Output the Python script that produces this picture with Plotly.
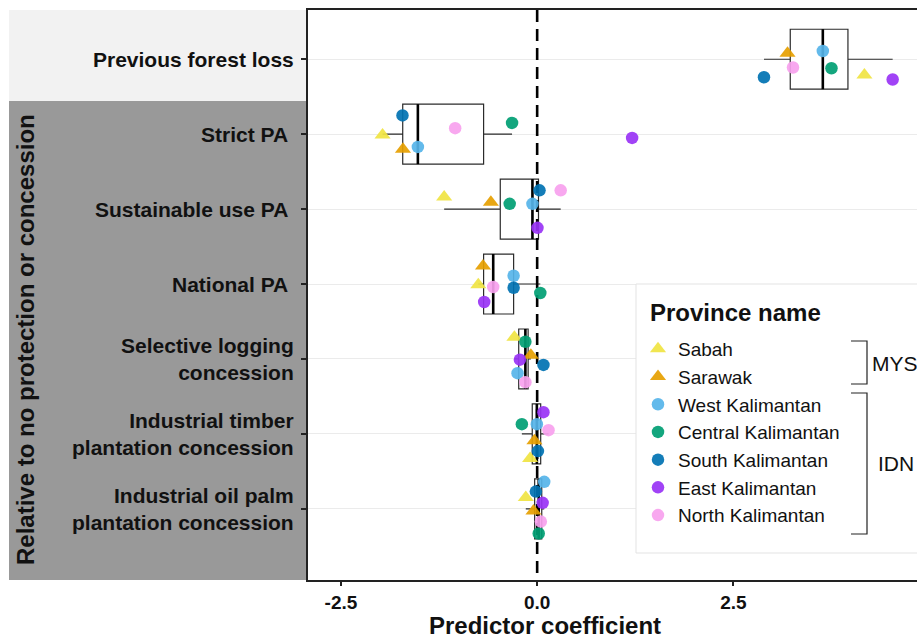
import numpy as np
import plotly.graph_objects as go

# ---------------- data ----------------
categories = ["Previous forest loss", "Strict PA ", "Sustainable use PA ", "National PA ",
              "Selective logging<br>concession",
              "Industrial timber<br>plantation concession",
              "Industrial oil palm<br>plantation concession"]
provinces = ["Sabah", "Sarawak", "West Kalimantan", "Central Kalimantan",
             "South Kalimantan", "East Kalimantan", "North Kalimantan"]
country_groups = ["MYS", "IDN"]
legend_title = "Province name"
axis_title = "Predictor coefficient"
group_title = "Relative to no protection or concession"

sabah = [4.17, -1.97, -1.185, -0.75, -0.29, -0.09, -0.145]
sarawak = [3.19, -1.71, -0.59, -0.69, -0.08, -0.035, -0.047]
west_kalimantan = [3.64, -1.52, -0.06, -0.30, -0.25, -0.004, 0.09]
central_kalimantan = [3.75, -0.32, -0.35, 0.04, -0.15, -0.195, 0.02]
south_kalimantan = [2.89, -1.716, 0.03, -0.30, 0.08, 0.01, -0.017]
east_kalimantan = [4.53, 1.21, 0.004, -0.675, -0.22, 0.08, 0.07]
north_kalimantan = [3.26, -1.045, 0.30, -0.56, -0.15, 0.145, 0.047]

x_tick_values = [-2.5, 0.0, 2.5]
x_tick_labels = ["-2.5", "0.0", "2.5"]

# vertical jitter of the points (category units)
jitter_sabah = [0.21, 0.01, -0.16, 0.01, -0.29, 0.33, -0.15]
jitter_sarawak = [-0.08, 0.20, -0.09, -0.24, -0.05, 0.09, 0.03]
jitter_west = [-0.11, 0.17, -0.07, -0.11, 0.19, -0.13, -0.36]
jitter_central = [0.12, -0.15, -0.07, 0.12, -0.23, -0.13, 0.33]
jitter_south = [0.24, -0.25, -0.25, 0.05, 0.08, 0.23, -0.23]
jitter_east = [0.27, 0.05, 0.25, 0.24, 0.01, -0.29, -0.08]
jitter_north = [0.11, -0.08, -0.25, 0.04, 0.31, -0.05, 0.17]

# ---------------- styles ----------------
series = [
    (provinces[0], sabah, jitter_sabah, "#F0E442", "triangle-up"),
    (provinces[1], sarawak, jitter_sarawak, "#E69F00", "triangle-up"),
    (provinces[2], west_kalimantan, jitter_west, "#56B4E9", "circle"),
    (provinces[3], central_kalimantan, jitter_central, "#009E73", "circle"),
    (provinces[4], south_kalimantan, jitter_south, "#0072B2", "circle"),
    (provinces[5], east_kalimantan, jitter_east, "#9933F5", "circle"),
    (provinces[6], north_kalimantan, jitter_north, "#F7A1EE", "circle"),
]

FONT = "Liberation Sans, Arial, sans-serif"
TXT = "#111111"
W, H = 917, 644
L, R_EDGE, T, B = 308, 917, 10, 580
pw, ph = R_EDGE - L, B - T


def fx(px):
    return (px - L) / pw


def fy(py):
    return (B - py) / ph


n = len(categories)
pos = list(range(n))
all_vals = np.array([s[1] for s in series])  # provinces x categories

q1s, meds, q3s, lfs, ufs = [], [], [], [], []
for i in range(n):
    v = all_vals[:, i]
    q1, med, q3 = np.percentile(v, [25, 50, 75])
    iqr = q3 - q1
    lf = v[v >= q1 - 1.5 * iqr].min()
    uf = v[v <= q3 + 1.5 * iqr].max()
    q1s.append(q1); meds.append(med); q3s.append(q3); lfs.append(lf); ufs.append(uf)

fig = go.Figure()

fig.add_trace(go.Box(
    y=pos, q1=q1s, median=meds, q3=q3s, lowerfence=lfs, upperfence=ufs,
    orientation="h", width=0.8, whiskerwidth=0, fillcolor="white",
    line=dict(color="#2b2b2b", width=1.2), boxpoints=False,
    showlegend=False, hoverinfo="skip"))

# thick median lines
mx, my = [], []
for i in range(n):
    mx += [meds[i], meds[i], None]
    my += [i - 0.4, i + 0.4, None]
fig.add_trace(go.Scatter(x=mx, y=my, mode="lines", line=dict(color="black", width=2.6),
                         showlegend=False, hoverinfo="skip"))

y_lo, y_hi = -0.657, 6.95
fig.add_trace(go.Scatter(x=[0, 0], y=[y_lo, y_hi], mode="lines",
                         line=dict(color="black", width=2.6, dash="12px,7px"),
                         showlegend=False, hoverinfo="skip"))

for name, vals, jit, col, sym in series:
    fig.add_trace(go.Scatter(
        x=vals, y=[p + j for p, j in zip(pos, jit)], mode="markers", name=name,
        marker=dict(color=col, symbol=sym, size=14 if sym == "triangle-up" else 12.5,
                    opacity=0.92, line=dict(width=0)),
        hoverinfo="skip"))

shapes = [
    dict(type="rect", xref="paper", yref="paper", x0=fx(9), x1=0, y0=fy(101), y1=1,
         fillcolor="#F2F2F2", line=dict(width=0), layer="below"),
    dict(type="rect", xref="paper", yref="paper", x0=fx(9), x1=0, y0=0, y1=fy(101),
         fillcolor="#999999", line=dict(width=0), layer="below"),
    # legend box
    dict(type="rect", xref="paper", yref="paper", x0=fx(636), x1=fx(960), y0=fy(553), y1=fy(284),
         fillcolor="white", line=dict(color="#E3E3E3", width=1), layer="above"),
]
# brackets in legend
for top, bot in [(341, 384), (393, 534)]:
    shapes.append(dict(type="path", xref="paper", yref="paper",
                       path=f"M {fx(851)},{fy(top)} L {fx(867)},{fy(top)} L {fx(867)},{fy(bot)} L {fx(851)},{fy(bot)}",
                       line=dict(color="#222222", width=1.2), layer="above"))

annotations = []
for i, lab in enumerate(categories):
    txt = lab.rstrip() + ("\u00a0" if lab.endswith(" ") else "")
    annotations.append(dict(xref="paper", yref="y", x=fx(296), y=i,
                            text="<b>" + txt + "</b>",
                            xanchor="right", yanchor="middle", align="right", showarrow=False,
                            font=dict(family=FONT, size=21, color=TXT)))
annotations.append(dict(xref="paper", yref="paper", x=fx(25), y=fy(340),
                        text="<b>" + group_title + "</b>", textangle=-90,
                        xanchor="center", yanchor="middle", showarrow=False,
                        font=dict(family=FONT, size=24, color=TXT)))
annotations.append(dict(xref="paper", yref="paper", x=fx(545), y=fy(625),
                        text="<b>" + axis_title + "</b>", xanchor="center", yanchor="middle",
                        showarrow=False, font=dict(family=FONT, size=24, color=TXT)))
annotations.append(dict(xref="paper", yref="paper", x=fx(648), y=fy(312),
                        text="<b>" + legend_title + "</b>", xanchor="left", yanchor="middle",
                        showarrow=False, font=dict(family=FONT, size=24, color=TXT)))
annotations.append(dict(xref="paper", yref="paper", x=fx(870), y=fy(364), text=country_groups[0],
                        xanchor="left", yanchor="middle", showarrow=False,
                        font=dict(family=FONT, size=21, color=TXT)))
annotations.append(dict(xref="paper", yref="paper", x=fx(876), y=fy(463), text=country_groups[1],
                        xanchor="left", yanchor="middle", showarrow=False,
                        font=dict(family=FONT, size=21, color=TXT)))

fig.update_layout(
    width=W, height=H,
    margin=dict(l=L, r=W - R_EDGE, t=T, b=H - B, autoexpand=False),
    plot_bgcolor="white", paper_bgcolor="white",
    font=dict(family=FONT, color=TXT),
    shapes=shapes, annotations=annotations,
    legend=dict(
        font=dict(family=FONT, size=19, color=TXT),
        x=fx(638), y=fy(330), xanchor="left", yanchor="top",
        borderwidth=0, bgcolor="rgba(0,0,0,0)", tracegroupgap=0,
    ),
    xaxis=dict(range=[-2.92, 4.84], tickvals=x_tick_values,
               ticktext=["<b>" + t + "</b>" for t in x_tick_labels],
               tickfont=dict(family=FONT, size=19, color=TXT),
               showgrid=False, zeroline=False, showline=True, linecolor="#222222", linewidth=1.5,
               mirror=True, ticks="outside", ticklen=4, tickcolor="#222222", tickwidth=1.5),
    yaxis=dict(range=[y_hi, y_lo], tickvals=pos, showticklabels=False,
               showgrid=True, gridcolor="#EBEBEB", gridwidth=1, zeroline=False,
               showline=True, linecolor="#222222", linewidth=1.5, mirror=False,
               ticks="outside", ticklen=5, tickcolor="#222222", tickwidth=1.5),
)

fig.write_html("out.html", config={"displayModeBar": False},
               post_script="document.body.style.margin='0px';")
